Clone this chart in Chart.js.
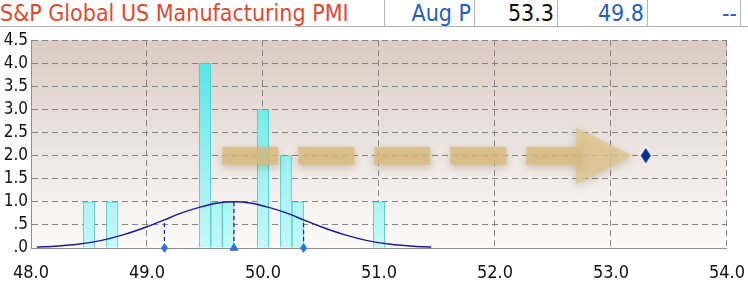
<!DOCTYPE html>
<html>
<head>
<meta charset="utf-8">
<script src="https://cdn.jsdelivr.net/npm/chart.js@4.4.1/dist/chart.umd.min.js"></script>
<style>
  html, body { margin: 0; padding: 0; background: #fff; }
  #page { position: relative; width: 748px; height: 284px; overflow: hidden; font-family: 'DejaVu Sans Condensed', 'DejaVu Sans', sans-serif; }
  #hdr { position: absolute; left: 0; top: 0; width: 748px; height: 26px; border-bottom: 1px solid #b4b4b4; }
  #hdr div { position: absolute; top: 0; height: 26px; line-height: 26px; font-size: 23px; white-space: nowrap; }
  #hdr .cell { text-align: right; padding-right: 3px; box-sizing: border-box; border-left: 1px solid #b4b4b4; }
  #wrap { position: absolute; left: 0; top: 27px; width: 748px; height: 257px; }
</style>
</head>
<body>
<div id="page">
  <div id="hdr">
    <div style="left:0;color:#e2472f">S&amp;P Global US Manufacturing PMI</div>
    <div class="cell" style="left:384px;width:90px;color:#1f5fc2">Aug P</div>
    <div class="cell" style="left:474px;width:83px;color:#111">53.3</div>
    <div class="cell" style="left:557px;width:90px;color:#1f5fc2">49.8</div>
    <div class="cell" style="left:647px;width:94px;color:#1f5fc2;border-right:1px solid #b4b4b4">--</div>
  </div>
  <div id="wrap"><canvas id="c"></canvas></div>
</div>
<script>
// histogram of forecasts (bin centre, count)
const binCenters = [48.5, 48.7, 49.5, 49.6, 49.7, 50.0, 50.2, 50.3, 51.0];
const binCounts = [1, 1, 4, 1, 1, 3, 2, 1, 1];
// fitted normal curve
const curveX = [48.05, 48.2, 48.4, 48.6, 48.8, 49.0, 49.15, 49.3, 49.45, 49.6, 49.75, 49.9, 50.05, 50.2, 50.35, 50.5, 50.7, 50.9, 51.1, 51.3, 51.45];
const curveY = [0.02, 0.04, 0.08, 0.16, 0.29, 0.46, 0.61, 0.76, 0.88, 0.97, 1.0, 0.97, 0.88, 0.76, 0.61, 0.46, 0.29, 0.16, 0.08, 0.04, 0.02];
// mean -1sd, mean, +1sd markers and where their dashed lines stop
const markX = [49.15, 49.75, 50.35];
const markTop = [0.61, 1.0, 0.61];
// actual release
const actualX = [53.3];
const actualY = [2.0];
// arrow from the survey toward the actual
const arrowX = [49.65, 52.72];
const arrowY = [2.0, 2.0];
const arrowHeadX = [52.94];
const xTicks = [48, 49, 50, 51, 52, 53, 54];
const yTicks = [0, 0.5, 1, 1.5, 2, 2.5, 3, 3.5, 4, 4.5];

function shape(w, h, pts, fill, stroke) {
  const c = document.createElement('canvas'); c.width = w; c.height = h;
  const g = c.getContext('2d'); const p = stroke ? 1.5 : 0;
  g.beginPath();
  pts.forEach(([x, y], i) => { const px = p + x * (w - 2 * p), py = p + y * (h - 2 * p); i ? g.lineTo(px, py) : g.moveTo(px, py); });
  g.closePath(); g.fillStyle = fill; g.fill();
  if (stroke) { g.strokeStyle = stroke; g.lineWidth = 1.5; g.stroke(); }
  return c;
}
const DIAMOND = [[.5, 0], [1, .5], [.5, 1], [0, .5]];
const smallDiamond = shape(7, 10, DIAMOND, '#2d70e0');
const bigDiamond = shape(15, 21, DIAMOND, '#0c2a8e', 'rgba(255,255,255,0.9)');
const head = shape(56, 56, [[0, 0], [1, .5], [0, 1]], 'rgba(224,198,142,0.8)');

const bgPlugin = {
  id: 'bg',
  beforeDraw(chart) {
    const { ctx, chartArea: a } = chart;
    const g = ctx.createLinearGradient(0, a.top, 0, a.bottom);
    g.addColorStop(0, 'rgb(219,203,195)'); g.addColorStop(0.5, 'rgb(236,228,224)'); g.addColorStop(1, 'rgb(252,251,250)');
    ctx.save(); ctx.fillStyle = g; ctx.fillRect(a.left, a.top, a.right - a.left, a.bottom - a.top); ctx.restore();
  },
};
// soft shadow under the arrow
const shadowPlugin = {
  id: 'shadow',
  beforeDatasetDraw(chart, args) {
    if (!chart.data.datasets[args.index].shadow) return;
    const ctx = chart.ctx; ctx.save();
    ctx.shadowColor = 'rgba(110,80,30,0.35)'; ctx.shadowBlur = 8; ctx.shadowOffsetY = 3;
  },
  afterDatasetDraw(chart, args) { if (chart.data.datasets[args.index].shadow) chart.ctx.restore(); },
};

const pts = (xs, ys) => xs.map((x, i) => ({ x, y: ys[i] }));
const navy = '#1c1c96';
const sigmaSets = markX.map((x, i) => ({
  type: 'line', data: [{ x, y: 0 }, { x, y: markTop[i] }], borderColor: navy, borderWidth: 1.2,
  borderDash: [4, 3], pointRadius: 0, order: 2,
}));

new Chart(document.getElementById('c'), {
  type: 'scatter',
  data: {
    datasets: [
      {
        type: 'bar', data: pts(binCenters, binCounts), barPercentage: 1, categoryPercentage: 1,
        backgroundColor: (c) => {
          const a = c.chart.chartArea; if (!a) return '#8eeeee';
          const g = c.chart.ctx.createLinearGradient(0, a.top, 0, a.bottom);
          g.addColorStop(0, 'rgb(70,228,228)'); g.addColorStop(0.7, 'rgb(168,242,242)'); g.addColorStop(1, 'rgb(196,248,248)');
          return g;
        },
        borderColor: 'rgba(70,200,205,0.9)', borderWidth: 1, order: 6,
      },
      {
        type: 'line', data: pts(arrowX, arrowY), borderColor: 'rgba(218,188,126,0.8)', borderWidth: 18,
        borderDash: [56, 20], borderCapStyle: 'butt', pointRadius: 0, order: 5, shadow: true,
      },
      {
        type: 'scatter', data: pts(arrowHeadX, [arrowY[1]]), pointStyle: head, order: 5, shadow: true,
      },
      {
        type: 'line', data: pts(curveX, curveY), borderColor: navy, borderWidth: 1.5, pointRadius: 0,
        cubicInterpolationMode: 'monotone', order: 3,
      },
      ...sigmaSets,
      {
        type: 'scatter', data: markX.map(x => ({ x, y: 0 })), clip: false, order: 1,
        pointStyle: [smallDiamond, 'triangle', smallDiamond], radius: 4.5,
        backgroundColor: '#2d70e0', borderColor: '#2d70e0', borderWidth: 1,
      },
      { type: 'scatter', data: pts(actualX, actualY), pointStyle: bigDiamond, order: 0 },
    ],
  },
  options: {
    responsive: true, maintainAspectRatio: false, animation: false,
    layout: { padding: { top: 12.5, right: 19, left: 0, bottom: 0 } },
    plugins: { legend: { display: false }, tooltip: { enabled: false } },
    scales: {
      x: {
        type: 'linear', min: xTicks[0], max: xTicks[xTicks.length - 1], offset: false,
        grid: { color: '#858585', lineWidth: 1, drawTicks: false, offset: false },
        border: { display: true, color: '#8f8f8f', width: 1, dash: [6, 4] },
        afterBuildTicks: s => { s.ticks = xTicks.map(value => ({ value })); },
        ticks: {
          autoSkip: false, padding: 3, color: '#111', maxRotation: 0,
          font: { family: "'Liberation Sans Narrow', 'DejaVu Sans Condensed', sans-serif", size: 18, lineHeight: '44px' },
          callback: v => v.toFixed(1),
        },
        afterFit: s => { s.height = 36; },
      },
      y: {
        min: yTicks[0], max: yTicks[yTicks.length - 1],
        grid: { color: '#858585', lineWidth: 1, drawTicks: false },
        border: { display: true, color: '#8f8f8f', width: 1, dash: [6, 4] },
        afterBuildTicks: s => { s.ticks = yTicks.map(value => ({ value })); },
        ticks: {
          autoSkip: false, padding: 3, color: '#111',
          font: { family: "'DejaVu Sans Condensed', sans-serif", size: 17 },
          callback: v => v < 1 ? v.toFixed(1).slice(1) : v.toFixed(1),
        },
        afterFit: s => { s.width = 31; },
      },
    },
  },
  plugins: [bgPlugin, shadowPlugin],
});
</script>
</body>
</html>
